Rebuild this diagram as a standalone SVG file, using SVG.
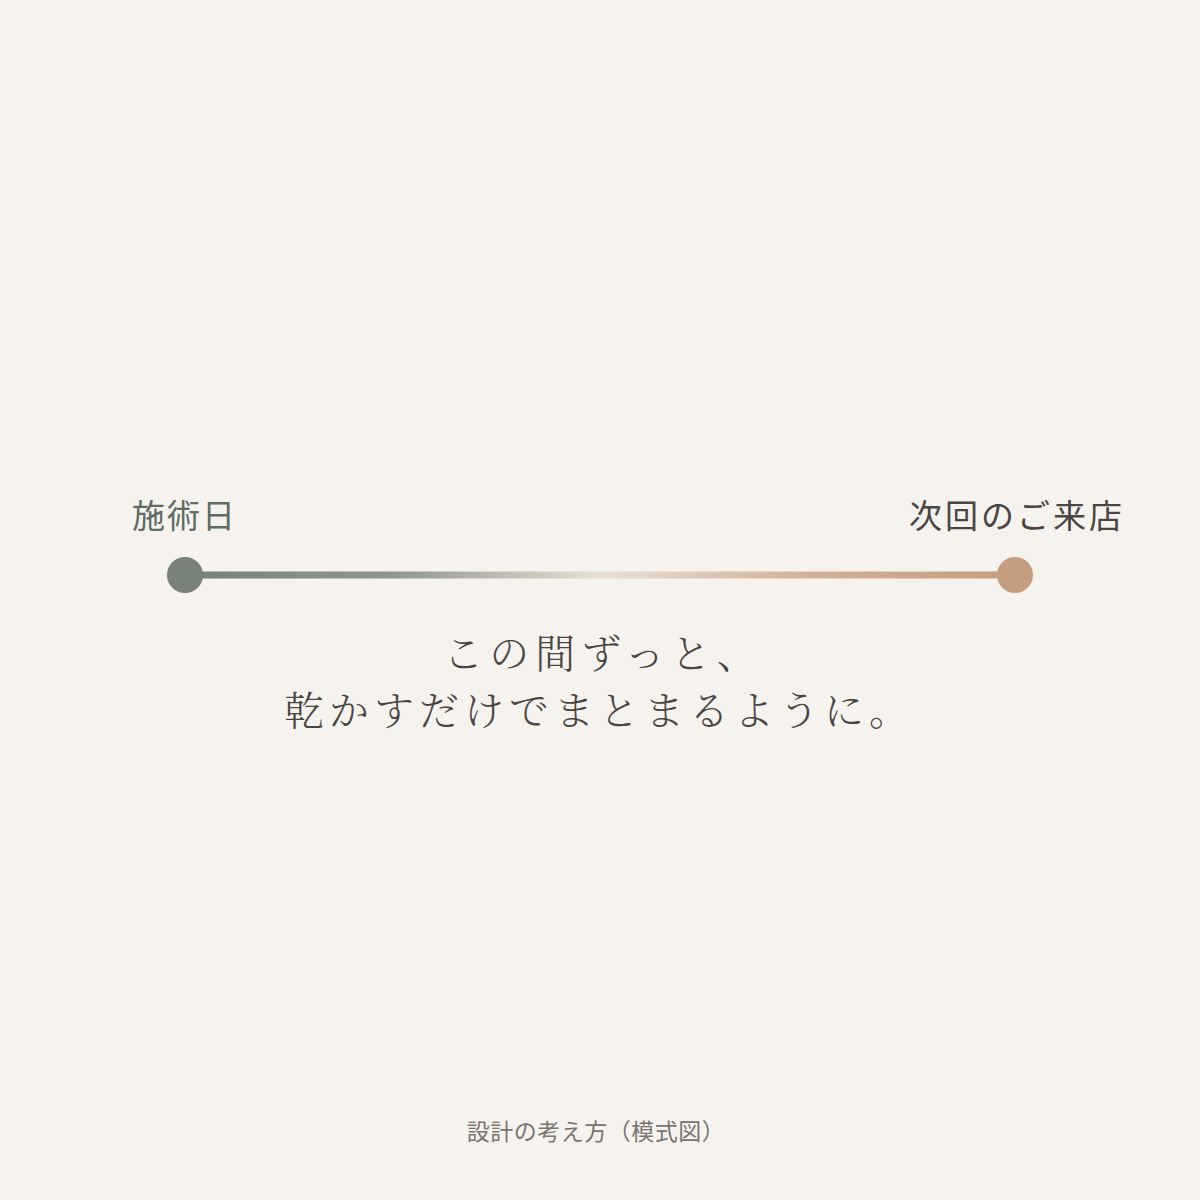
<svg xmlns="http://www.w3.org/2000/svg" width="1200" height="1200" viewBox="0 0 1200 1200">
<defs>
<linearGradient id="lineGrad" x1="185" y1="0" x2="1015" y2="0" gradientUnits="userSpaceOnUse">
<stop offset="0" stop-color="#76817a"/>
<stop offset="0.25" stop-color="#8f968f"/>
<stop offset="0.5" stop-color="#e8dfd3"/>
<stop offset="0.75" stop-color="#d2b198"/>
<stop offset="1" stop-color="#c49e7e"/>
</linearGradient>
<style>
.jp { font-family: "Noto Sans CJK JP", "Noto Sans", sans-serif; }
.mincho { font-family: "Noto Serif CJK JP", "Noto Sans CJK JP", serif; font-weight: 300; }
</style>
</defs>
<rect width="1200" height="1200" fill="#f6f3ee"/>
<g id="connectors">
<line x1="185" y1="575" x2="1015" y2="575" stroke="url(#lineGrad)" stroke-width="7" stroke-linecap="round"/>
</g>
<g id="node-start">
<circle cx="185" cy="575" r="18" fill="#78827a"/>
<text class="jp" x="132" y="528" font-size="33" letter-spacing="2" fill="#5f6b63">施術日</text>
</g>
<g id="node-end">
<circle cx="1015" cy="575" r="18" fill="#c49e7e"/>
<text class="jp" x="909" y="528" font-size="33" letter-spacing="3" fill="#4a4541">次回のご来店</text>
</g>
<g id="message">
<text class="mincho" x="603" y="668" font-size="40" letter-spacing="6" text-anchor="middle" fill="#4a4541">この間ずっと、</text>
<text class="mincho" x="599" y="725" font-size="40" letter-spacing="5" text-anchor="middle" fill="#4a4541">乾かすだけでまとまるように。</text>
</g>
<g id="caption">
<text class="jp" x="596" y="1140" font-size="23" letter-spacing="0.5" text-anchor="middle" fill="#7a7570">設計の考え方（模式図）</text>
</g>
</svg>
